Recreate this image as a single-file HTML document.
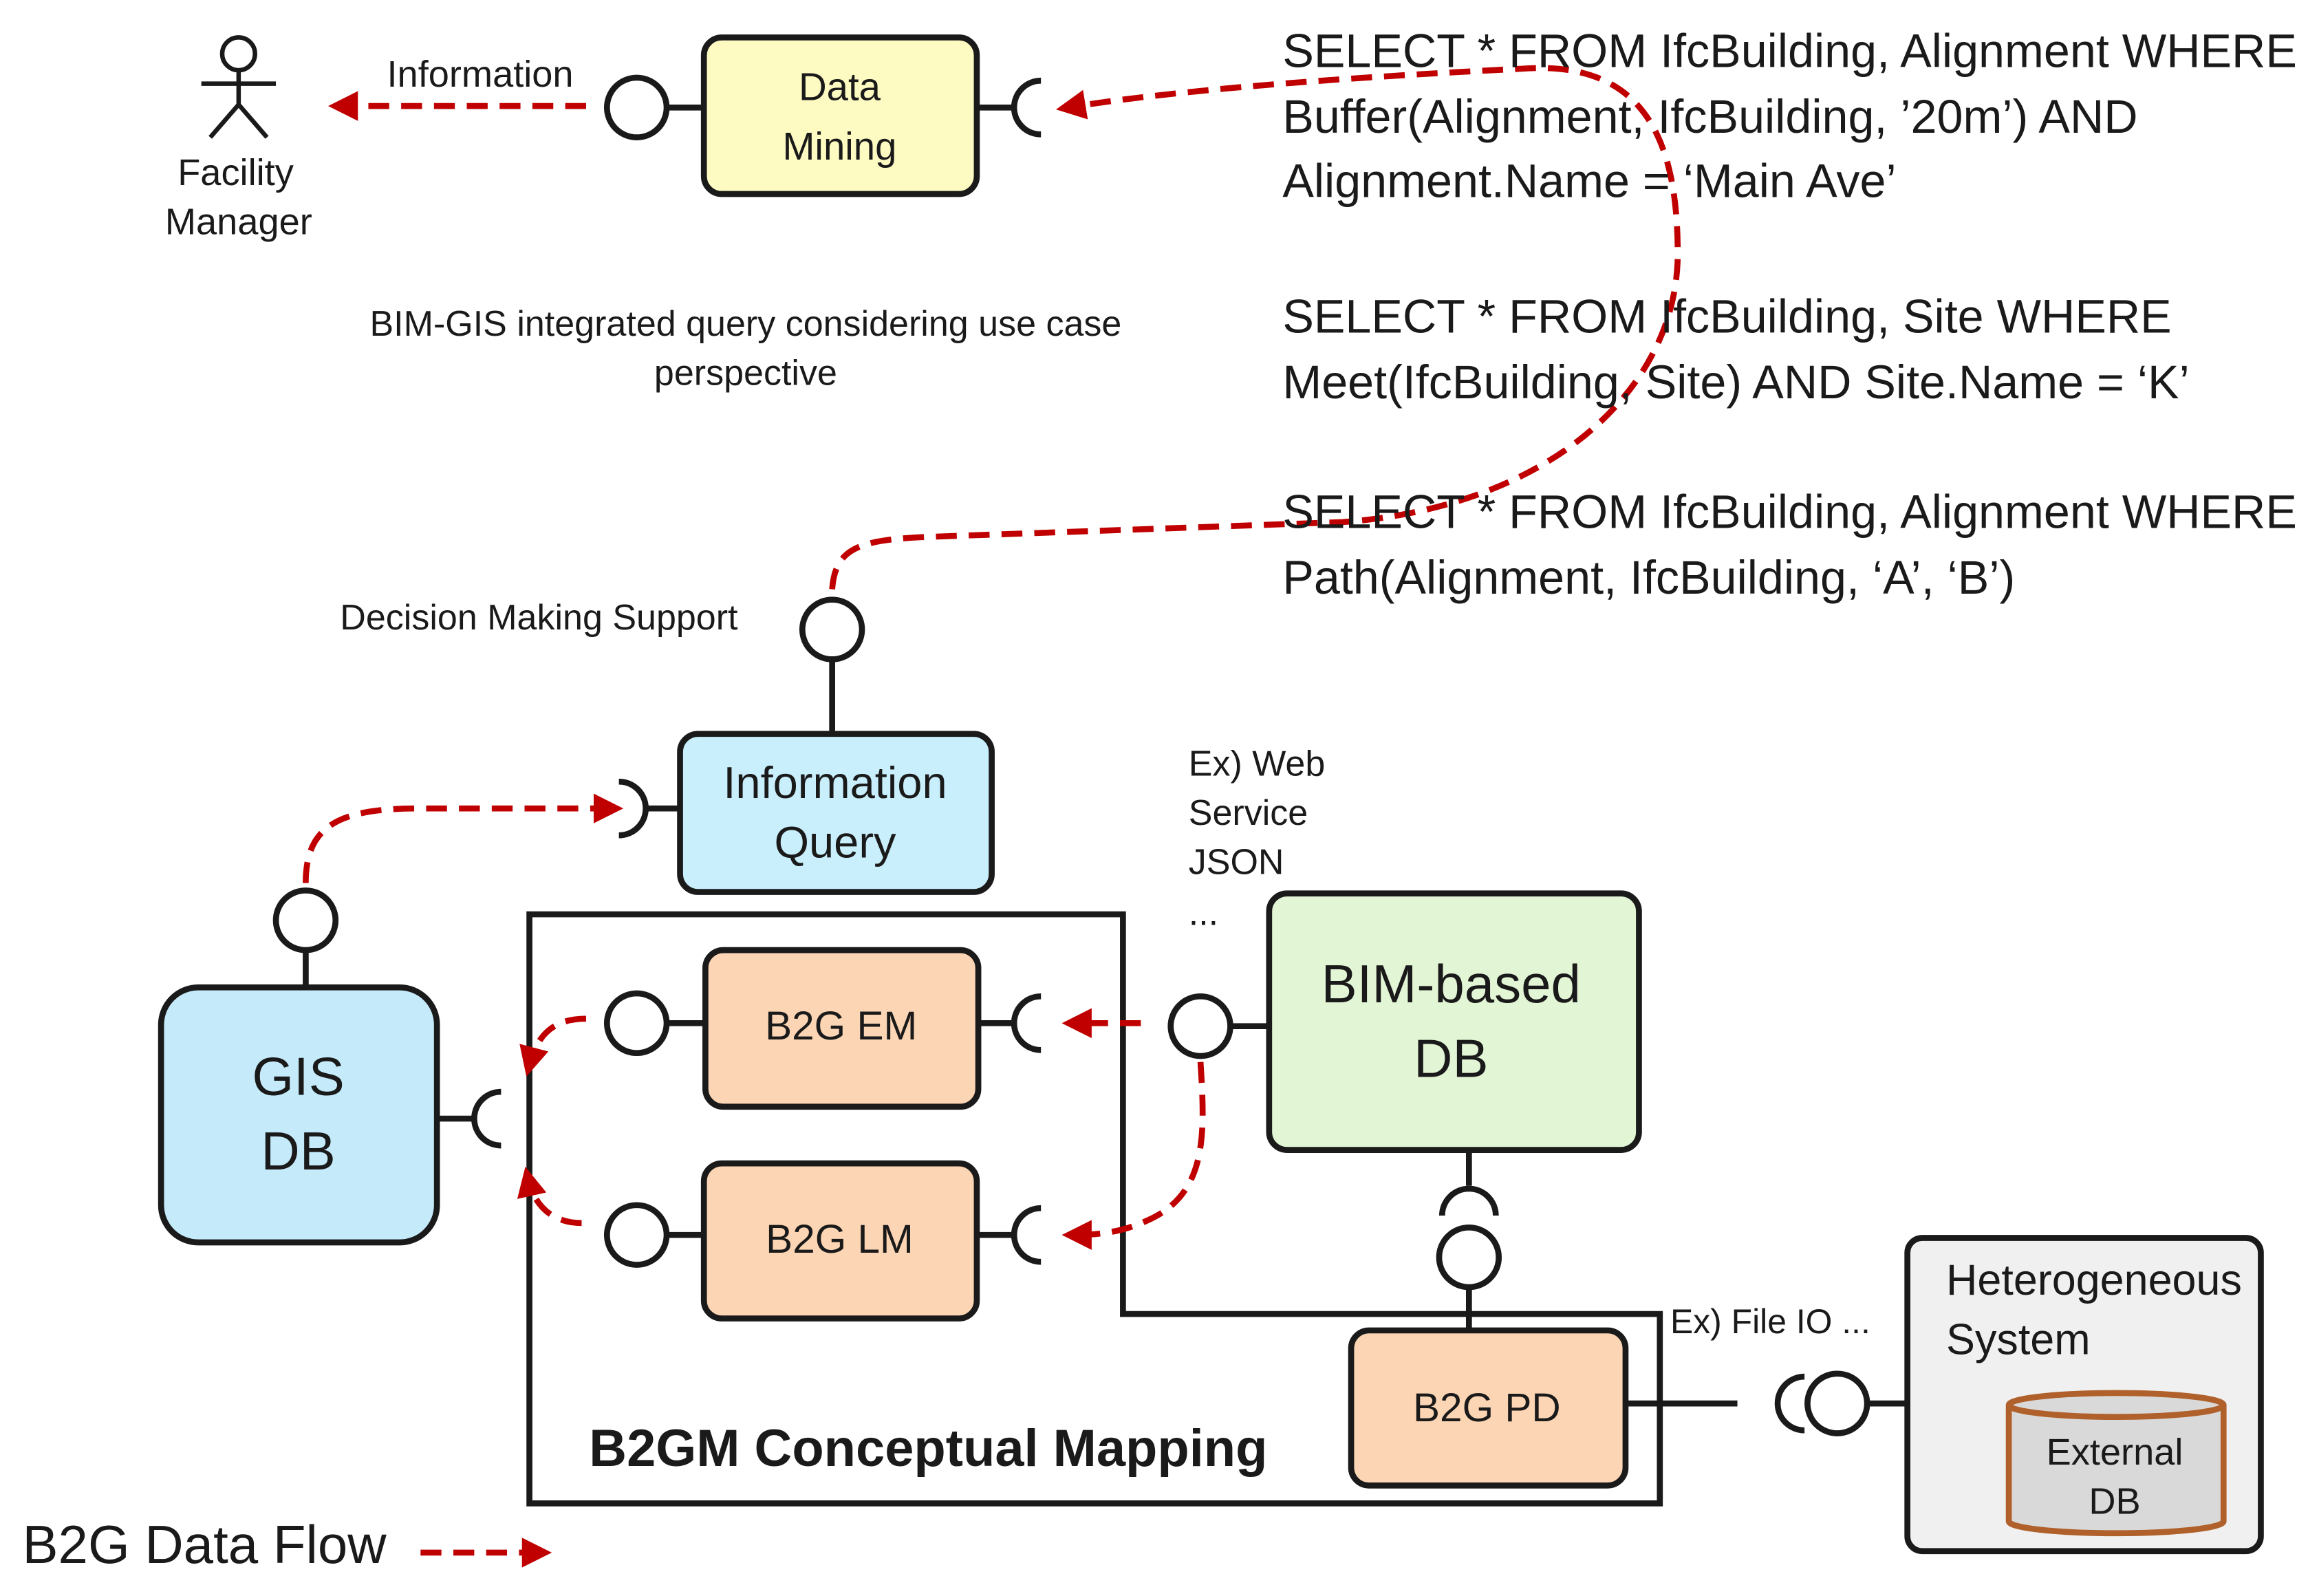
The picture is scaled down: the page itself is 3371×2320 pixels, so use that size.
<!DOCTYPE html>
<html><head><meta charset="utf-8"><style>
html,body{margin:0;padding:0;background:#fff;}
svg{display:block;}
text{font-family:"Liberation Sans",sans-serif;fill:#1a1a1a;}
</style></head><body>
<svg width="3371" height="2320" viewBox="0 0 1555 1070" xmlns="http://www.w3.org/2000/svg">
<defs>
<marker id="ah" markerWidth="5" markerHeight="5" refX="3" refY="2.5" orient="auto" markerUnits="strokeWidth">
<path d="M0,0 L5,2.5 L0,5 z" fill="#c00000"/></marker>
</defs>
<g stroke="#1a1a1a" stroke-width="4" fill="none">
<circle cx="160" cy="36" r="11" stroke-width="3"/>
<line x1="160" y1="47" x2="160" y2="70" stroke-width="3"/>
<line x1="135" y1="56" x2="185" y2="56" stroke-width="3"/>
<line x1="160" y1="70" x2="141" y2="92" stroke-width="3"/>
<line x1="160" y1="70" x2="179" y2="92" stroke-width="3"/>
<rect x="472" y="25" width="183" height="105" rx="12" fill="#fdfbc2"/>
<line x1="447" y1="72" x2="472" y2="72"/><circle cx="427" cy="72" r="20"/>
<line x1="655" y1="72" x2="680" y2="72"/><path d="M698,54 A18,18 0 0 0 698,90"/>
<rect x="456" y="492" width="209" height="106" rx="12" fill="#c9effc"/>
<line x1="558" y1="442" x2="558" y2="492"/><circle cx="558" cy="422" r="20"/>
<line x1="432" y1="542" x2="456" y2="542"/><path d="M415,524 A18,18 0 0 1 415,560"/>
<rect x="108" y="662" width="185" height="171" rx="25" fill="#c5ebfb"/>
<line x1="205" y1="637" x2="205" y2="662"/><circle cx="205" cy="617" r="20"/>
<line x1="293" y1="750" x2="318" y2="750"/><path d="M336,732 A18,18 0 0 0 336,768"/>
<path d="M355,613 L753,613 L753,881 L1113,881 L1113,1008 L355,1008 Z"/>
<rect x="473" y="637" width="183" height="105" rx="12" fill="#fcd5b4"/>
<line x1="447" y1="686" x2="473" y2="686"/><circle cx="427" cy="686" r="20"/>
<line x1="656" y1="686" x2="680" y2="686"/><path d="M698,668 A18,18 0 0 0 698,704"/>
<rect x="472" y="780" width="183" height="104" rx="12" fill="#fcd5b4"/>
<line x1="447" y1="828" x2="472" y2="828"/><circle cx="427" cy="828" r="20"/>
<line x1="655" y1="828" x2="680" y2="828"/><path d="M698,810 A18,18 0 0 0 698,846"/>
<rect x="851" y="599" width="248" height="172" rx="12" fill="#e2f5d5"/>
<line x1="825" y1="688" x2="851" y2="688"/><circle cx="805" cy="688" r="20"/>
<line x1="985" y1="771" x2="985" y2="795"/><path d="M967,815 A18,18 0 0 1 1003,815"/>
<circle cx="985" cy="843" r="20"/><line x1="985" y1="863" x2="985" y2="892"/>
<rect x="906" y="892" width="184" height="104" rx="12" fill="#fcd5b4"/>
<line x1="1090" y1="941" x2="1165" y2="941"/><path d="M1210,923 A18,18 0 0 0 1210,959"/>
<circle cx="1232" cy="941" r="20"/><line x1="1252" y1="941" x2="1279" y2="941"/>
<rect x="1279" y="830" width="237" height="210" rx="10" fill="#f0f0f0"/>
<g stroke="#b0602a" stroke-width="4" fill="#d9d9d9">
<path d="M1347,942 L1347,1020 A72,8 0 0 0 1491,1020 L1491,942"/>
<ellipse cx="1419" cy="942" rx="72" ry="8"/>
</g>
</g>
<g stroke="#c00000" stroke-width="4" fill="none" stroke-dasharray="14,8" marker-end="url(#ah)">
<line x1="393" y1="71" x2="228" y2="71"/>
<path d="M558,395 C560,368 575,362 620,360 L900,350 C1040,340 1125,260 1125,170 C1125,90 1100,40 1020,46 C900,52 790,60 716,72"/>
<path d="M205,592 C205,555 225,542 280,542 L410,542"/>
<line x1="765" y1="686" x2="720" y2="686"/>
<path d="M805,712 C808,760 810,800 770,818 C755,825 740,828 720,828"/>
<path d="M393,683 C370,683 360,695 355,714"/>
<path d="M390,820 C370,820 358,808 354,790"/>
<line x1="282" y1="1041" x2="362" y2="1041"/>
</g>
<g font-size="24">
<text x="158" y="124" text-anchor="middle" font-size="25">Facility</text>
<text x="160" y="157" text-anchor="middle" font-size="25">Manager</text>
<text x="322" y="58" text-anchor="middle" font-size="25">Information</text>
<text x="500" y="225" text-anchor="middle">BIM-GIS integrated query considering use case</text>
<text x="500" y="258" text-anchor="middle">perspective</text>
<text x="228" y="422">Decision Making Support</text>
<text x="797" y="520">Ex) Web</text>
<text x="797" y="553">Service</text>
<text x="797" y="586">JSON</text>
<text x="797" y="620">...</text>
<text x="1120" y="894" font-size="23">Ex) File IO ...</text>
<text x="1418" y="982" text-anchor="middle" font-size="25">External</text>
<text x="1418" y="1015" text-anchor="middle" font-size="25">DB</text>
</g>
<g font-size="26" text-anchor="middle">
<text x="563" y="67">Data</text>
<text x="563" y="107">Mining</text>
<text x="560" y="535" font-size="30">Information</text>
<text x="560" y="575" font-size="30">Query</text>
<text x="564" y="697" font-size="27">B2G EM</text>
<text x="563" y="840" font-size="27">B2G LM</text>
<text x="997" y="953" font-size="27">B2G PD</text>
</g>
<g font-size="36" text-anchor="middle">
<text x="200" y="734">GIS</text>
<text x="200" y="784">DB</text>
<text x="973" y="672">BIM-based</text>
<text x="973" y="722">DB</text>
</g>
<g font-size="29">
<text x="1305" y="868">Heterogeneous</text>
<text x="1305" y="908">System</text>
</g>
<text x="395" y="983" font-size="35" font-weight="bold">B2GM Conceptual Mapping</text>
<text x="15" y="1048" font-size="36">B2G Data Flow</text>
<g font-size="31.5">
<text x="860" y="45">SELECT * FROM IfcBuilding, Alignment WHERE</text>
<text x="860" y="89">Buffer(Alignment, IfcBuilding, ’20m’) AND</text>
<text x="860" y="132">Alignment.Name = ‘Main Ave’</text>
<text x="860" y="223">SELECT * FROM IfcBuilding, Site WHERE</text>
<text x="860" y="267">Meet(IfcBuilding, Site) AND Site.Name = ‘K’</text>
<text x="860" y="354">SELECT * FROM IfcBuilding, Alignment WHERE</text>
<text x="860" y="398">Path(Alignment, IfcBuilding, ‘A’, ‘B’)</text>
</g>
</svg>
</body></html>
